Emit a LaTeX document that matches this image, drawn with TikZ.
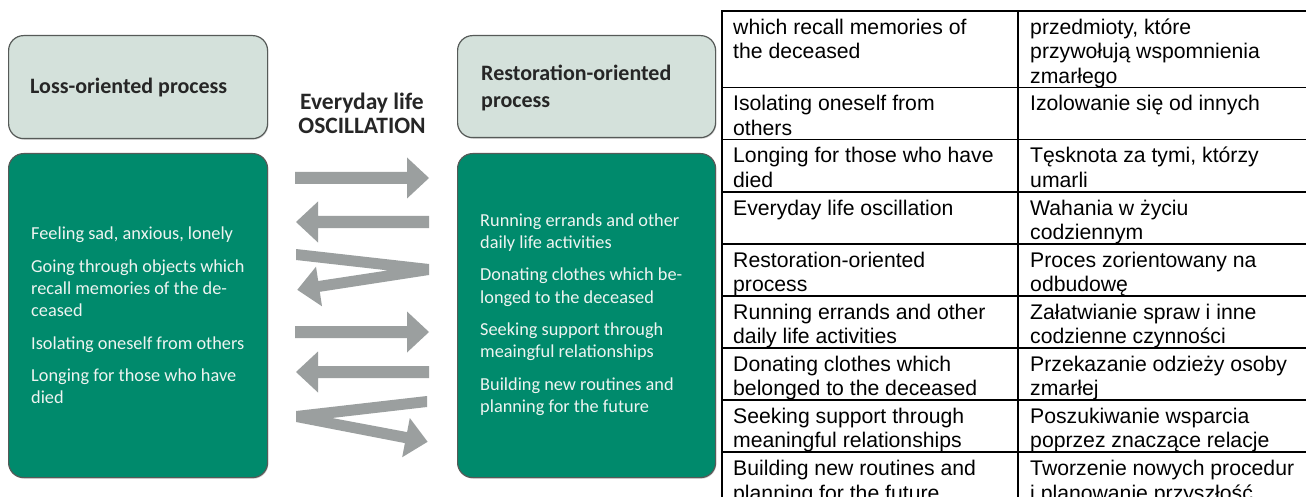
\documentclass[tikz,border=0pt]{standalone}
\usepackage{fontspec}
\setmainfont{Carlito}
\newfontfamily\tabfont{Liberation Sans}
\usetikzlibrary{shadows}

\definecolor{procgreen}{HTML}{008A6C}
\definecolor{headfill}{HTML}{D4E1DB}
\definecolor{boxline}{HTML}{565A58}
\definecolor{oscgray}{HTML}{9B9F9F}
\definecolor{headtext}{HTML}{262626}
\definecolor{boxtext}{HTML}{EEF4F1}

% one table cell: text box whose baseline is its first line
\newcommand\cellbox[2]{\parbox[t]{#1}{\raggedright #2}}
% one table row: name, top edge, English text, Polish text
\newcommand\tabrow[4]{%
  \node[cell, anchor=base west] (#1en) at (733,#2+23.3) {\cellbox{280pt}{#3}};
  \node[cell, anchor=base west] (#1pl) at (1030,#2+23.3) {\cellbox{300pt}{#4}};
}

\begin{document}
\begin{tikzpicture}[x=1pt, y=-1pt,
  headbox/.style={draw=boxline, line width=1.2pt, fill=headfill, rounded corners=15pt,
    drop shadow={shadow xshift=0.8pt, shadow yshift=-1.2pt, opacity=0.3}},
  greenbox/.style={draw=boxline, line width=1.2pt, fill=procgreen, rounded corners=15pt,
    drop shadow={shadow xshift=0.8pt, shadow yshift=-1.2pt, opacity=0.3}},
  headlabel/.style={inner sep=0pt, text=headtext,
    font=\bfseries\fontsize{22}{26.6}\selectfont},
  osclabel/.style={inner sep=0pt, text=headtext,
    font=\bfseries\fontsize{23.5}{24.7}\selectfont},
  bodylabel/.style={inner sep=0pt, text=boxtext,
    font=\fontsize{18.3}{22}\selectfont},
  oscarrow/.style={fill=oscgray},
  cell/.style={inner sep=0pt, text=black, font=\tabfont\fontsize{21.2}{24.5}\selectfont},
  tabrule/.style={draw=black, line width=1.8pt}
]
\useasboundingbox (0,0) rectangle (1306,497);
\clip (0,0) rectangle (1306,497);
\fill[white] (0,0) rectangle (1306,497);

% ---- the two processes ----
\node[headbox, anchor=north west, minimum width=259pt, minimum height=103pt] (losshead) at (8,35) {};
\node[greenbox, anchor=north west, minimum width=259pt, minimum height=324pt] (lossbody) at (8,153) {};
\node[headbox, anchor=north west, minimum width=258pt, minimum height=102pt] (resthead) at (457,35) {};
\node[greenbox, anchor=north west, minimum width=258pt, minimum height=324pt] (restbody) at (457,153) {};

\node[headlabel, anchor=base west] (losstitle) at (30,94) {Loss-oriented process};
\node[headlabel, anchor=base west] (resttitle) at (481,80.7)
  {\cellbox{220pt}{Restoration-oriented\\process}};

\node[bodylabel, anchor=base west] (losstext) at (31,240) {\cellbox{230pt}{%
  Feeling sad, anxious, lonely\\[10.5pt]
  Going through objects which\\
  recall memories of the de-\\
  ceased\\[10.5pt]
  Isolating oneself from others\\[10.5pt]
  Longing for those who have\\
  died}};

\node[bodylabel, anchor=base west] (resttext) at (480,226.5) {\cellbox{225pt}{%
  Running errands and other\\
  daily life activities\\[10.5pt]
  Donating clothes which be-\\
  longed to the deceased\\[10.5pt]
  Seeking support through\\
  meaingful relationships\\[10.5pt]
  Building new routines and\\
  planning for the future}};

% ---- oscillation between them ----
\node[osclabel, anchor=base] (osctitle) at (362,109.3)
  {\parbox[t]{200pt}{\centering Everyday life\\OSCILLATION}};

% straight arrows
\fill[oscarrow] (295,172) -- (407,172) -- (407,157.5) -- (429,178) -- (407,198.5) -- (407,184) -- (295,184) -- cycle;
\fill[oscarrow] (429,216) -- (318,216) -- (318,201.5) -- (296,222) -- (318,242.5) -- (318,228) -- (429,228) -- cycle;
% zigzag ending to the left
\fill[oscarrow] (296,249) -- (429,264) -- (429,275) -- (319.8,291.8) -- (322,306.3) -- (297.3,289.8)
  -- (316,266.7) -- (318.2,281) -- (388,270.4) -- (296,260) -- cycle;
\fill[oscarrow] (295,326) -- (407,326) -- (407,311.5) -- (429,332) -- (407,352.5) -- (407,338) -- (295,338) -- cycle;
\fill[oscarrow] (429,366) -- (318,366) -- (318,351.5) -- (296,372) -- (318,392.5) -- (318,378) -- (429,378) -- cycle;
% zigzag ending to the right
\fill[oscarrow] (427,396) -- (296,411) -- (296,422) -- (404.9,443.1) -- (402.2,457.2) -- (427.6,441.8)
  -- (409.8,418) -- (407.1,432.1) -- (332,418) -- (427,407) -- cycle;

% ---- glossary table ----
\draw[tabrule] (1330,11) -- (722,11) -- (722,520);
\draw[tabrule] (1018,11) -- (1018,520);
\foreach \ry in {87.5,139.6,191.7,243.8,295.9,348.0,400.1,452.2}
  \draw[tabrule] (722,\ry) -- (1330,\ry);

\tabrow{ra}{11}{which recall memories of\\the deceased}{przedmioty, które\\przywołują wspomnienia\\zmarłego}
\tabrow{rb}{87.5}{Isolating oneself from\\others}{Izolowanie się od innych}
\tabrow{rc}{139.6}{Longing for those who have\\died}{Tęsknota za tymi, którzy\\umarli}
\tabrow{rd}{191.7}{Everyday life oscillation}{Wahania w życiu\\codziennym}
\tabrow{re}{243.8}{Restoration-oriented\\process}{Proces zorientowany na\\odbudowę}
\tabrow{rf}{295.9}{Running errands and other\\daily life activities}{Załatwianie spraw i inne\\codzienne czynności}
\tabrow{rg}{348.0}{Donating clothes which\\belonged to the deceased}{Przekazanie odzieży osoby\\zmarłej}
\tabrow{rh}{400.1}{Seeking support through\\meaningful relationships}{Poszukiwanie wsparcia\\poprzez znaczące relacje}
\tabrow{ri}{452.2}{Building new routines and\\planning for the future}{Tworzenie nowych procedur\\i planowanie przyszłość}
\end{tikzpicture}
\end{document}
